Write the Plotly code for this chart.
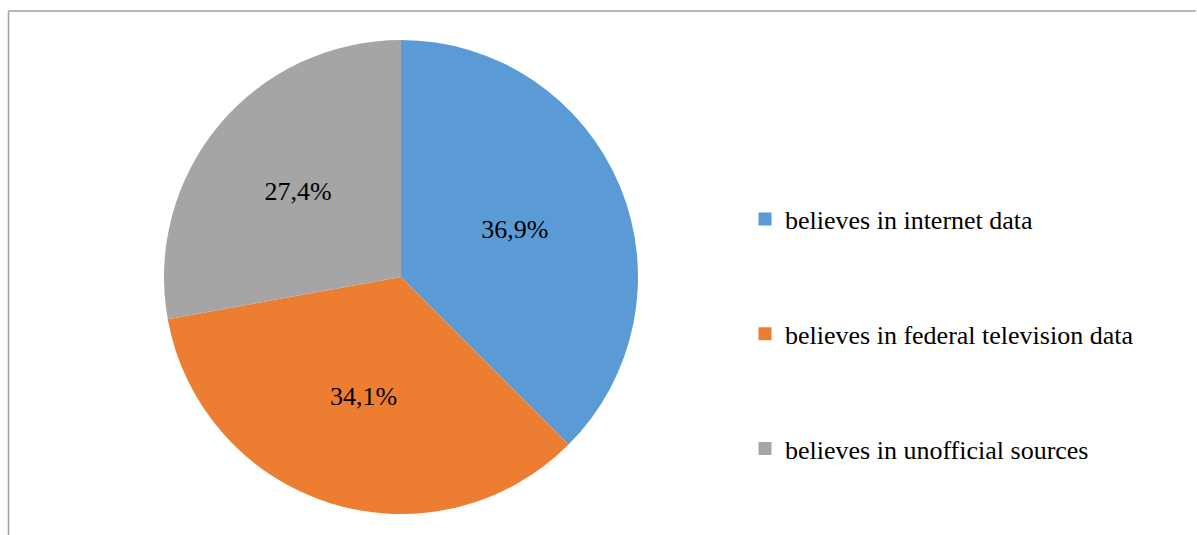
import plotly.graph_objects as go

# Survey shares: which information source respondents trust
categories = [
    "believes in internet data",
    "believes in federal television data",
    "believes in unofficial sources",
]
shares = [36.9, 34.1, 27.4]
colors = ["#5B9BD5", "#ED7D31", "#A5A5A5"]

W, H = 1197, 535
serif = "'Times New Roman', 'Liberation Serif', Tinos, 'DejaVu Serif', serif"

fig = go.Figure()

fig.add_trace(go.Pie(
    labels=categories,
    values=shares,
    sort=False,
    direction="clockwise",
    rotation=0,
    marker=dict(colors=colors, line=dict(width=0)),
    texttemplate="%{value:.1f}%",
    textposition="inside",
    insidetextorientation="horizontal",
    textfont=dict(family=serif, size=26, color="black"),
    domain=dict(x=[(401 - 237) / W, (401 + 237) / W],
                y=[1 - 514 / H, 1 - 40 / H]),
    showlegend=False,
    hoverinfo="label+percent",
))

# Legend entries, one group per category so the rows can be spaced apart
for name, col in zip(categories, colors):
    fig.add_trace(go.Scatter(
        x=[None], y=[None],
        mode="markers",
        name=name,
        legendgroup=name,
        marker=dict(symbol="square", size=13, color=col),
        hoverinfo="skip",
    ))

# Chart-area frame: top and left edges
frame = dict(color="#A0A0A0", width=1.5)
fig.add_shape(type="line", xref="paper", yref="paper",
              x0=8.5 / W, x1=8.5 / W, y0=0, y1=1 - 11 / H, line=frame)
fig.add_shape(type="line", xref="paper", yref="paper",
              x0=8.5 / W, x1=1196 / W, y0=1 - 11 / H, y1=1 - 11 / H, line=frame)

fig.update_layout(
    width=W, height=H,
    margin=dict(l=0, r=0, t=0, b=0),
    paper_bgcolor="white",
    plot_bgcolor="white",
    separators=", ",
    font=dict(family=serif),
    xaxis=dict(visible=False),
    yaxis=dict(visible=False),
    legend=dict(
        x=(785 - 40) / W, xanchor="left",
        y=1 - 334 / H, yanchor="middle",
        font=dict(family=serif, size=26, color="black"),
        tracegroupgap=78,
        traceorder="grouped",
        bgcolor="rgba(0,0,0,0)",
        itemclick=False,
    ),
)

fig.write_html("out.html")
